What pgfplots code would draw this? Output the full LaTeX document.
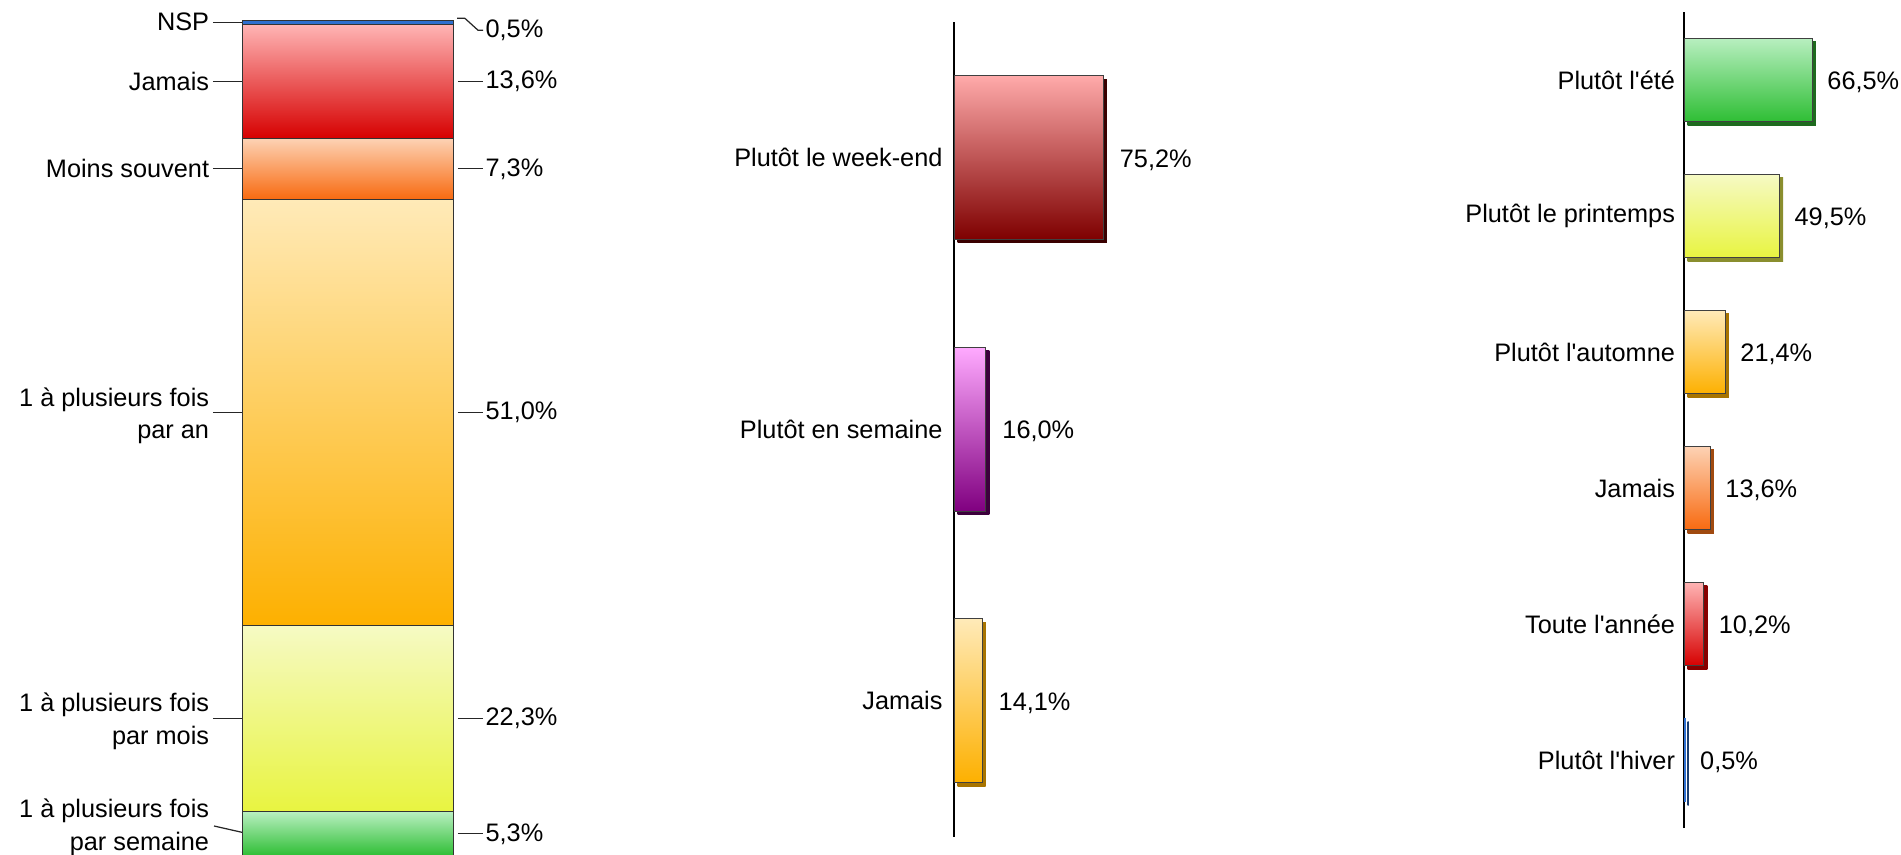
\documentclass[border=0pt]{standalone}
\usepackage{fontspec}
\setmainfont{Liberation Sans}[Ligatures=TeXOff]
\usepackage{pgfplots}
\pgfplotsset{compat=1.18}

\definecolor{grnT}{HTML}{B8EFC0}\definecolor{grnB}{HTML}{2EBE34}\definecolor{grnS}{HTML}{1E6A1E}
\definecolor{yelT}{HTML}{F6FAC4}\definecolor{yelB}{HTML}{E8F440}\definecolor{yelS}{HTML}{8A8E2E}
\definecolor{ambT}{HTML}{FFEAB8}\definecolor{ambB}{HTML}{FDB000}\definecolor{ambS}{HTML}{A87400}
\definecolor{orgT}{HTML}{FDD2B4}\definecolor{orgB}{HTML}{F86A10}\definecolor{orgS}{HTML}{A04A10}
\definecolor{redT}{HTML}{FFB4B4}\definecolor{redB}{HTML}{D60000}\definecolor{redS}{HTML}{880000}
\definecolor{nspB}{HTML}{2E6FCF}\definecolor{nspS}{HTML}{183C70}
\definecolor{wkT}{HTML}{FFAAAA}\definecolor{wkB}{HTML}{7E0000}\definecolor{wkS}{HTML}{3A0000}
\definecolor{smT}{HTML}{FFAAFF}\definecolor{smB}{HTML}{800080}\definecolor{smS}{HTML}{3C003C}

\tikzset{
  shadowed/.style={preaction={draw=none, fill=#1, top color=#1, bottom color=#1,
      transform canvas={xshift=0.35mm, yshift=-0.35mm}}},
  leader/.style={line width=0.35pt, black!85},
}
\pgfplotsset{
  hbar/.style={
    scale only axis, xmin=0, xmax=100,
    xbar, bar shift=0pt,
    axis x line=none, axis y line=left,
    axis line style={-, line width=0.7pt, black},
    major tick length=0pt,
    yticklabel style={inner sep=0pt, text=black},
    nodes near coords, point meta=explicit symbolic,
    every node near coord/.append style={anchor=west, inner sep=0pt, text=black},
    clip=false,
  },
}

\begin{document}
\begin{tikzpicture}[font=\fontsize{7.2}{9.3}\selectfont]
\useasboundingbox (0,0) rectangle (190.1mm,85.5mm);

% ---------- left: stacked bar ----------
\begin{axis}[at={(24.25mm,-0.1mm)}, anchor=south west, scale only axis,
  width=21.1mm, height=83.54mm, xmin=0, xmax=1, ymin=0, ymax=100,
  ybar stacked, bar width=21.1mm, hide axis, clip=false]
\addplot[draw=black!80, line width=0.3pt, top color=grnT, bottom color=grnB] coordinates {(0.5,5.3)};
\addplot[draw=black!80, line width=0.3pt, top color=yelT, bottom color=yelB] coordinates {(0.5,22.3)};
\addplot[draw=black!80, line width=0.3pt, top color=ambT, bottom color=ambB] coordinates {(0.5,51.0)};
\addplot[draw=black!80, line width=0.3pt, top color=orgT, bottom color=orgB] coordinates {(0.5,7.3)};
\addplot[draw=black!80, line width=0.3pt, top color=redT, bottom color=redB] coordinates {(0.5,13.6)};
\addplot[draw=black!80, line width=0.3pt, fill=nspB] coordinates {(0.5,0.5)};

% left labels
\draw[leader] (axis cs:-0.14,99.75) -- (axis cs:0.126,99.75);
\node[anchor=east, inner sep=0pt] at (axis cs:-0.155,99.9) {NSP};
\draw[leader] (axis cs:-0.14,92.7) -- (axis cs:0.126,92.7);
\node[anchor=east, inner sep=0pt] at (axis cs:-0.155,92.7) {Jamais};
\draw[leader] (axis cs:-0.14,82.25) -- (axis cs:0.126,82.25);
\node[anchor=east, inner sep=0pt] at (axis cs:-0.155,82.25) {Moins souvent};
\draw[leader] (axis cs:-0.14,53.1) -- (axis cs:0.126,53.1);
\node[anchor=east, align=right, inner sep=0pt] at (axis cs:-0.155,52.7) {1 à plusieurs fois\\par an};
\draw[leader] (axis cs:-0.14,16.45) -- (axis cs:0.126,16.45);
\node[anchor=east, align=right, inner sep=0pt] at (axis cs:-0.155,16.1) {1 à plusieurs fois\\par mois};
\draw[leader] (axis cs:-0.135,3.59) -- (axis cs:0.012,2.75) -- (axis cs:0.126,2.6);
\node[anchor=east, align=right, inner sep=0pt] at (axis cs:-0.155,3.4) {1 à plusieurs fois\\par semaine};

% right labels
\draw[leader] (axis cs:1.017,100.27) -- (axis cs:1.054,100.27) -- (axis cs:1.116,98.85) -- (axis cs:1.14,98.85);
\node[anchor=west, inner sep=0pt] at (axis cs:1.149,98.85) {0,5\%};
\draw[leader] (axis cs:1.021,92.7) -- (axis cs:1.14,92.7);
\node[anchor=west, inner sep=0pt] at (axis cs:1.149,92.7) {13,6\%};
\draw[leader] (axis cs:1.021,82.25) -- (axis cs:1.14,82.25);
\node[anchor=west, inner sep=0pt] at (axis cs:1.149,82.25) {7,3\%};
\draw[leader] (axis cs:1.021,53.1) -- (axis cs:1.14,53.1);
\node[anchor=west, inner sep=0pt] at (axis cs:1.149,53.1) {51,0\%};
\draw[leader] (axis cs:1.021,16.45) -- (axis cs:1.14,16.45);
\node[anchor=west, inner sep=0pt] at (axis cs:1.149,16.45) {22,3\%};
\draw[leader] (axis cs:1.021,2.65) -- (axis cs:1.14,2.65);
\node[anchor=west, inner sep=0pt] at (axis cs:1.149,2.65) {5,3\%};
\end{axis}

% ---------- middle: when ----------
\begin{axis}[hbar, at={(95.42mm,1.84mm)}, anchor=south west,
  width=19.84mm, height=81.48mm, ymin=-0.5, ymax=2.5, bar width=16.37mm,
  ytick={0,1,2}, yticklabels={Jamais, Plutôt en semaine, Plutôt le week-end},
  yticklabel style={xshift=-1.1mm},
  every node near coord/.append style={xshift=1.6mm, yshift=-0.25mm}]
\addplot[draw=black!75, line width=0.3pt, top color=wkT, bottom color=wkB, shadowed=wkS] coordinates {(75.2,2) [75,2\%]};
\addplot[draw=black!75, line width=0.3pt, top color=smT, bottom color=smB, shadowed=smS] coordinates {(16.0,1) [16,0\%]};
\addplot[draw=black!75, line width=0.3pt, top color=ambT, bottom color=ambB, shadowed=ambS] coordinates {(14.1,0) [14,1\%]};
\end{axis}

% ---------- right: season ----------
\begin{axis}[hbar, at={(168.42mm,2.69mm)}, anchor=south west,
  width=19.28mm, height=81.6mm, ymin=-0.5, ymax=5.5, bar width=8.37mm,
  ytick={0,1,2,3,4,5},
  yticklabels={Plutôt l'hiver, Toute l'année, Jamais, Plutôt l'automne, Plutôt le printemps, Plutôt l'été},
  yticklabel style={xshift=-0.85mm},
  every node near coord/.append style={xshift=1.45mm, yshift=-0.25mm}]
\addplot[draw=black!75, line width=0.3pt, top color=grnT, bottom color=grnB, shadowed=grnS] coordinates {(66.5,5) [66,5\%]};
\addplot[draw=black!75, line width=0.3pt, top color=yelT, bottom color=yelB, shadowed=yelS] coordinates {(49.5,4) [49,5\%]};
\addplot[draw=black!75, line width=0.3pt, top color=ambT, bottom color=ambB, shadowed=ambS] coordinates {(21.4,3) [21,4\%]};
\addplot[draw=black!75, line width=0.3pt, top color=orgT, bottom color=orgB, shadowed=orgS] coordinates {(13.6,2) [13,6\%]};
\addplot[draw=black!75, line width=0.3pt, top color=redT, bottom color=redB, shadowed=redS] coordinates {(10.2,1) [10,2\%]};
\addplot[draw=nspB, line width=0.3pt, fill=nspB, shadowed=nspS] coordinates {(0.5,0) [0,5\%]};
\end{axis}
\end{tikzpicture}
\end{document}
